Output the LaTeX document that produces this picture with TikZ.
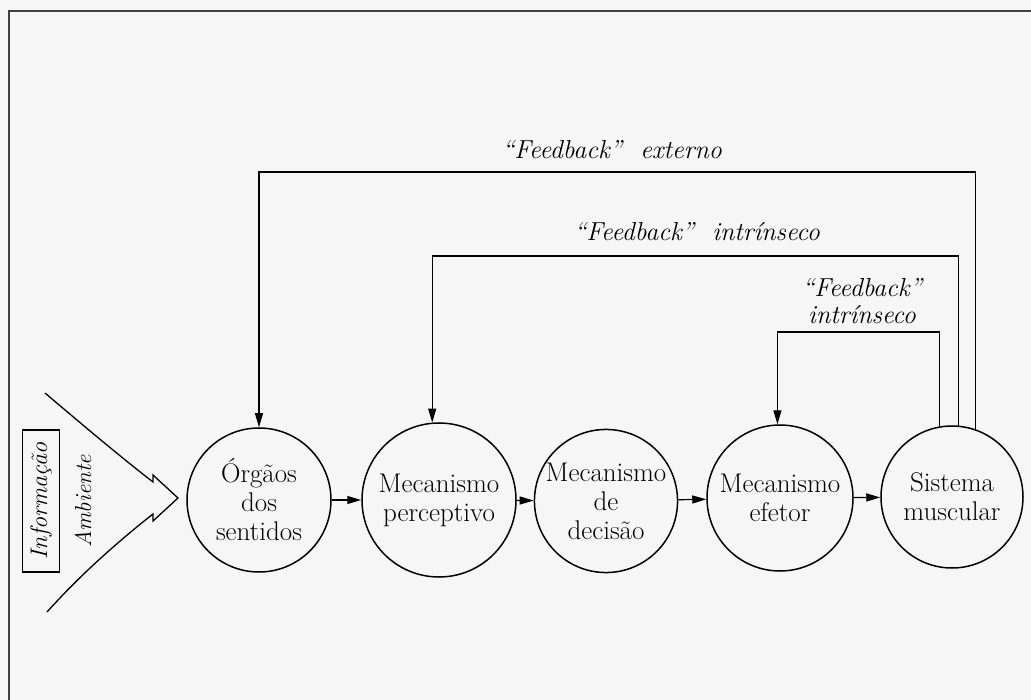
\documentclass[tikz,border=0pt]{standalone}
\usepackage{fontspec}
\usetikzlibrary{arrows.meta}
\begin{document}
\begin{tikzpicture}[>={Triangle[length=14pt,width=8pt]},x=1pt,y=-1pt,line width=1.2pt,
	orgao/.style={circle,draw,line width=1.5pt,inner sep=0pt,align=center,font=\fontsize{27}{29}\selectfont},
	rotulo/.style={font=\fontsize{26}{27}\selectfont\itshape,align=center}]
			\fill[gray!7] (0,0) rectangle (1031,700);
			\useasboundingbox (0,0) rectangle (1031,700);
			\draw[line width=1.4pt,black!75] (9,700) -- (9,11) -- (1031,11); % borda da página
			% os cinco mecanismos
			\node[orgao,minimum size=144pt] (sent) at (259,500) {Órgãos\\dos\\sentidos};
			\node[orgao,minimum size=154pt] (perc) at (439,500) {Mecanismo\\perceptivo};
			\node[orgao,minimum size=142pt] (deci) at (606,501) {Mecanismo\\de\\decisão};
			\node[orgao,minimum size=146pt] (efet) at (780,498) {Mecanismo\\efetor};
			\node[orgao,minimum size=142pt] (musc) at (952,497) {Sistema\\muscular};
			\draw[->] (sent) -- (perc);
			\draw[->] (perc) -- (deci);
			\draw[->] (deci) -- (efet);
			\draw[->] (efet) -- (musc);
			% os três circuitos de feedback
			\coordinate (fext) at (0,172);
			\coordinate (fint) at (0,256);
			\coordinate (fmus) at (0,332);
			\draw[->] (musc.71) |- (sent.north |- fext) -- (sent.north);
			\draw[->] (musc.85) |- (perc.95 |- fint) -- (perc.95);
			\draw[->] (musc.100) |- (efet.92 |- fmus) -- (efet.92);
			\node[rotulo] (lext) at (612,150) {“Feedback”\ \ externo};
			\node[rotulo] (lint) at (697,232) {“Feedback”\ \ intrínseco};
			\node[rotulo] (lmus) at (862,301) {“Feedback”\\intrínseco};
			% entrada: informação do ambiente
			\node[draw,line width=1.4pt,rotate=90,minimum width=142pt,minimum height=37pt,inner sep=0pt,font=\fontsize{24}{26}\selectfont\itshape] (info) at (41,501) {Informação};
			\node[rotate=90,font=\fontsize{23}{26}\selectfont\itshape] (amb) at (83,501) {Ambiente};
			\draw[line width=1.3pt] (45,393) .. controls (85,427) and (122,458) .. (153,482) -- (153,475) -- (178,498)
				-- (153,521) -- (153,514) .. controls (120,540) and (82,573) .. (47,612);
			\end{tikzpicture}
\end{document}
